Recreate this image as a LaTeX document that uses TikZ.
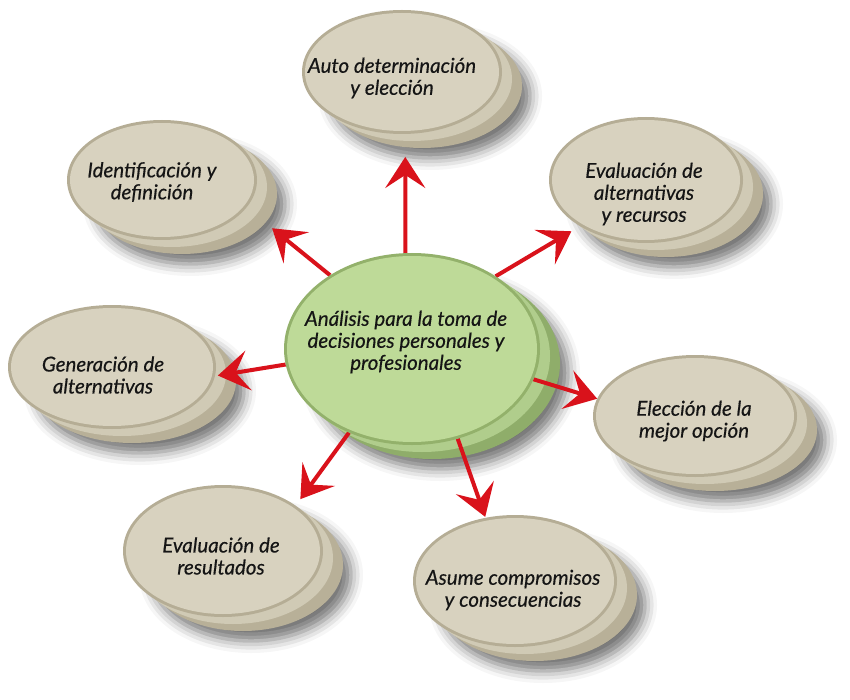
\documentclass[tikz,border=0pt]{standalone}
\usepackage{fontspec}
\setmainfont{Lato}[ItalicFeatures={FakeBold=0.45}]
\usetikzlibrary{shapes.geometric,arrows.meta,shadows.blur}
\definecolor{bback}{HTML}{B8B098}
\definecolor{bmid}{HTML}{D0CAB5}
\definecolor{brim}{HTML}{B5AD95}
\definecolor{bface}{HTML}{D8D2BF}
\definecolor{gback}{HTML}{8FAD6A}
\definecolor{gmid}{HTML}{B0CD8C}
\definecolor{grim}{HTML}{93B16B}
\definecolor{gface}{HTML}{BEDA98}
\definecolor{arrred}{HTML}{D9121B}
\definecolor{txt}{HTML}{151515}
\tikzset{
  shadowpath/.style={blur shadow={shadow xshift=8pt, shadow yshift=-10pt, shadow blur radius=12pt, shadow opacity=55}},
  face/.style={ellipse, inner sep=0pt, outer sep=0pt},
  lbl/.style={align=center, font=\itshape\fontsize{20.5}{22}\selectfont, text=txt},
  arr/.style={draw=arrred, line width=4pt, -{Stealth[length=31pt,width=40pt,inset=13pt]}},
}
% #1 x, #2 y, #3 rx, #4 ry
\newcommand{\diskshadow}[4]{%
  \path[shadowpath] (#1+20,#2+14) ellipse [x radius=#3, y radius=#4];}
% #1 x, #2 y, #3 rx, #4 ry, #5 colour prefix
\newcommand{\diskback}[5]{%
  \fill[#5back] (#1+20,#2+14) ellipse [x radius=#3, y radius=#4];
  \fill[#5mid] (#1+10,#2+7) ellipse [x radius=#3, y radius=#4];}
% #1 name, #2 x, #3 y, #4 rx, #5 ry, #6 colour prefix
\newcommand{\diskfront}[6]{%
  \node[face, fill=#6rim, minimum width=2*#4, minimum height=2*#5] (#1) at (#2,#3) {};
  \fill[#6face] (#1.center) ellipse [x radius=#4-3, y radius=#5-3];}
\begin{document}
\begin{tikzpicture}[x=1pt,y=-1pt]
\useasboundingbox (0,0) rectangle (850,700);

% shadows
\diskshadow{412}{349}{128}{96}
\diskshadow{402}{72}{100}{62}
\diskshadow{162}{180}{95}{60}
\diskshadow{646}{180}{97}{63}
\diskshadow{112}{367}{104}{62}
\diskshadow{695}{416}{102}{61}
\diskshadow{223}{551}{100}{66}
\diskshadow{515}{581}{102}{66}

% back layers
\diskback{412}{349}{128}{96}{g}
\diskback{402}{72}{100}{62}{b}
\diskback{162}{180}{95}{60}{b}
\diskback{646}{180}{97}{63}{b}
\diskback{112}{367}{104}{62}{b}
\diskback{695}{416}{102}{61}{b}
\diskback{223}{551}{100}{66}{b}
\diskback{515}{581}{102}{66}{b}

% satellite fronts
\diskfront{auto}{402}{72}{100}{62}{b}
\diskfront{ident}{162}{180}{95}{60}{b}
\diskfront{evalt}{646}{180}{97}{63}{b}
\diskfront{gen}{112}{367}{104}{62}{b}
\diskfront{elec}{695}{416}{102}{61}{b}
\diskfront{evres}{223}{551}{100}{66}{b}
\diskfront{asume}{515}{581}{102}{66}{b}

% central node (outline only, filled after the arrows)
\node[face, minimum width=256, minimum height=192] (c) at (412,349) {};

% arrows
\draw[arr, shorten >=23pt] (c.94) -- (auto.-87);
\draw[arr, shorten >=33pt] (c.138) -- (ident.-18);
\draw[arr, shorten >=10pt] (c.41) -- (evalt.-145);
\draw[arr, shorten >=3pt] (c.187) -- (gen.-5);
\draw[arr] (c.-14) -- (elec.170);
\draw[arr, shorten >=8pt] (c.-127) -- (evres.32);
\draw[arr, shorten >=1pt] (c.-63) -- (asume.115);

% central front
\fill[grim] (c.center) ellipse [x radius=128, y radius=96];
\fill[gface] (c.center) ellipse [x radius=125, y radius=93];

% texts
\node[lbl] (c-t) at (406,342) {Análisis para la toma de\\decisiones personales y\\profesionales};
\node[lbl] (auto-t) at (392,78) {Auto determinación\\y elección};
\node[lbl] (ident-t) at (152,182) {Identificación y\\definición};
\node[lbl] (evalt-t) at (644,194) {Evaluación de\\alternativas\\y recursos};
\node[lbl] (gen-t) at (103,375) {Generación de\\alternativas};
\node[lbl] (elec-t) at (694,421) {Elección de la\\mejor opción};
\node[lbl] (evres-t) at (221,556) {Evaluación de\\resultados};
\node[lbl] (asume-t) at (513,590) {Asume compromisos\\y consecuencias};
\end{tikzpicture}
\end{document}
